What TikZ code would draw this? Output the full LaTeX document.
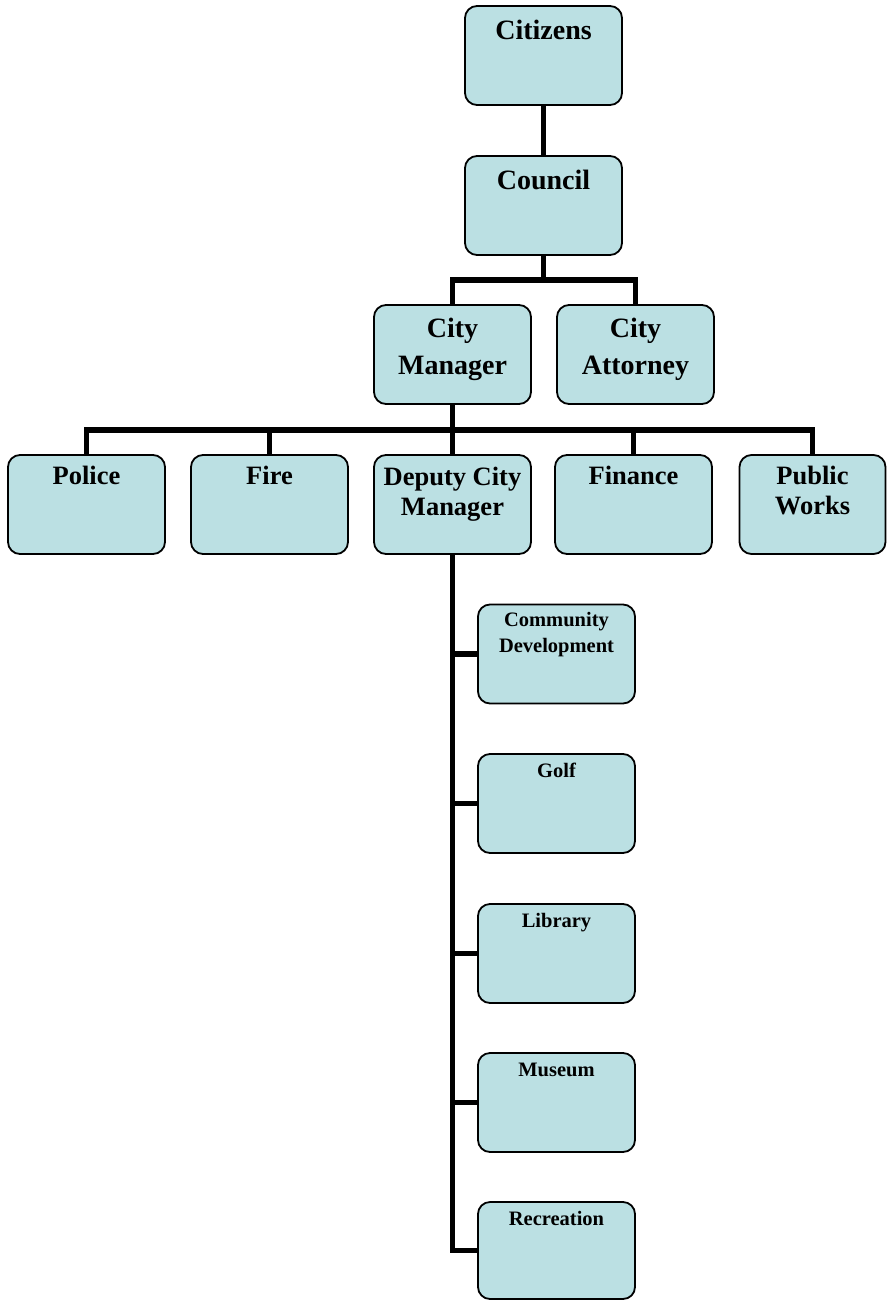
\documentclass[tikz,border=0pt]{standalone}
\usepackage{fontspec}
\setmainfont{Liberation Serif}
\definecolor{boxfill}{RGB}{187,224,227}
\begin{document}
\begin{tikzpicture}[x=1pt,y=-1pt,
  box/.style={draw=black, line width=1.8pt, rounded corners=12pt, fill=boxfill,
    minimum width=157pt, minimum height=99pt, inner sep=0pt},
  txt/.style={align=center, anchor=base, inner sep=0pt},
  bigf/.style={txt, font=\fontsize{28}{37}\selectfont\bfseries},
  midf/.style={txt, font=\fontsize{26.5}{30}\selectfont\bfseries},
  smallf/.style={txt, font=\fontsize{20.5}{26}\selectfont\bfseries},
  conn/.style={line width=5.5pt}]
\useasboundingbox (0,0) rectangle (887,1300);
% boxes
\node[box] (cit) at (543.5,55.5) {};
\node[box] (cou) at (543.5,205.5) {};
\node[box] (cm) at (452.5,354.5) {};
\node[box] (ca) at (635.5,354.5) {};
\node[box] (pol) at (86.5,504.5) {};
\node[box] (fire) at (269.5,504.5) {};
\node[box] (dcm) at (452.5,504.5) {};
\node[box] (fin) at (633.5,504.5) {};
\node[box, minimum width=146pt] (pw) at (812.5,504.5) {};
\node[box] (cd) at (556.5,654) {};
\node[box] (golf) at (556.5,803.5) {};
\node[box] (lib) at (556.5,953.5) {};
\node[box] (mus) at (556.5,1102.5) {};
\node[box, minimum height=97pt] (rec) at (556.5,1250.5) {};
% texts (anchor base = baseline of last line)
\node[bigf] (citT) at ([yshift=-34pt]cit.north) {Citizens};
\node[bigf] (couT) at ([yshift=-34pt]cou.north) {Council};
\node[bigf] (cmT) at ([yshift=-70pt]cm.north) {City\\Manager};
\node[bigf] (caT) at ([yshift=-70pt]ca.north) {City\\Attorney};
\node[midf] (polT) at ([yshift=-30pt]pol.north) {Police};
\node[midf] (fireT) at ([yshift=-30pt]fire.north) {Fire};
\node[midf] (dcmT) at ([yshift=-61pt]dcm.north) {Deputy City\\Manager};
\node[midf] (finT) at ([yshift=-30pt]fin.north) {Finance};
\node[midf] (pwT) at ([yshift=-60pt]pw.north) {Public\\Works};
\node[smallf] (cdT) at ([yshift=-49pt]cd.north) {Community\\Development};
\node[smallf] (golfT) at ([yshift=-24pt]golf.north) {Golf};
\node[smallf] (libT) at ([yshift=-24pt]lib.north) {Library};
\node[smallf] (musT) at ([yshift=-24pt]mus.north) {Museum};
\node[smallf] (recT) at ([yshift=-24pt]rec.north) {Recreation};
% connectors
\coordinate (j1) at (543.5,280);
\coordinate (j2) at (452.5,430);
\draw[conn] (cit.south) -- (cou.north);
\draw[conn] (cou.south) -- (j1);
\draw[conn] (cm.north) |- (j1) -| (ca.north);
\draw[conn] (cm.south) -- (j2);
\draw[conn] (pol.north) |- (j2) -| (pw.north);
\draw[conn] (fire.north) -- (fire.north |- j2);
\draw[conn] (dcm.north) -- (j2);
\draw[conn] (fin.north) -- (fin.north |- j2);
\draw[conn] (dcm.south) |- (rec.west);
\foreach \n in {cd,golf,lib,mus} \draw[conn] (dcm.south |- \n.west) -- (\n.west);
\end{tikzpicture}
\end{document}
